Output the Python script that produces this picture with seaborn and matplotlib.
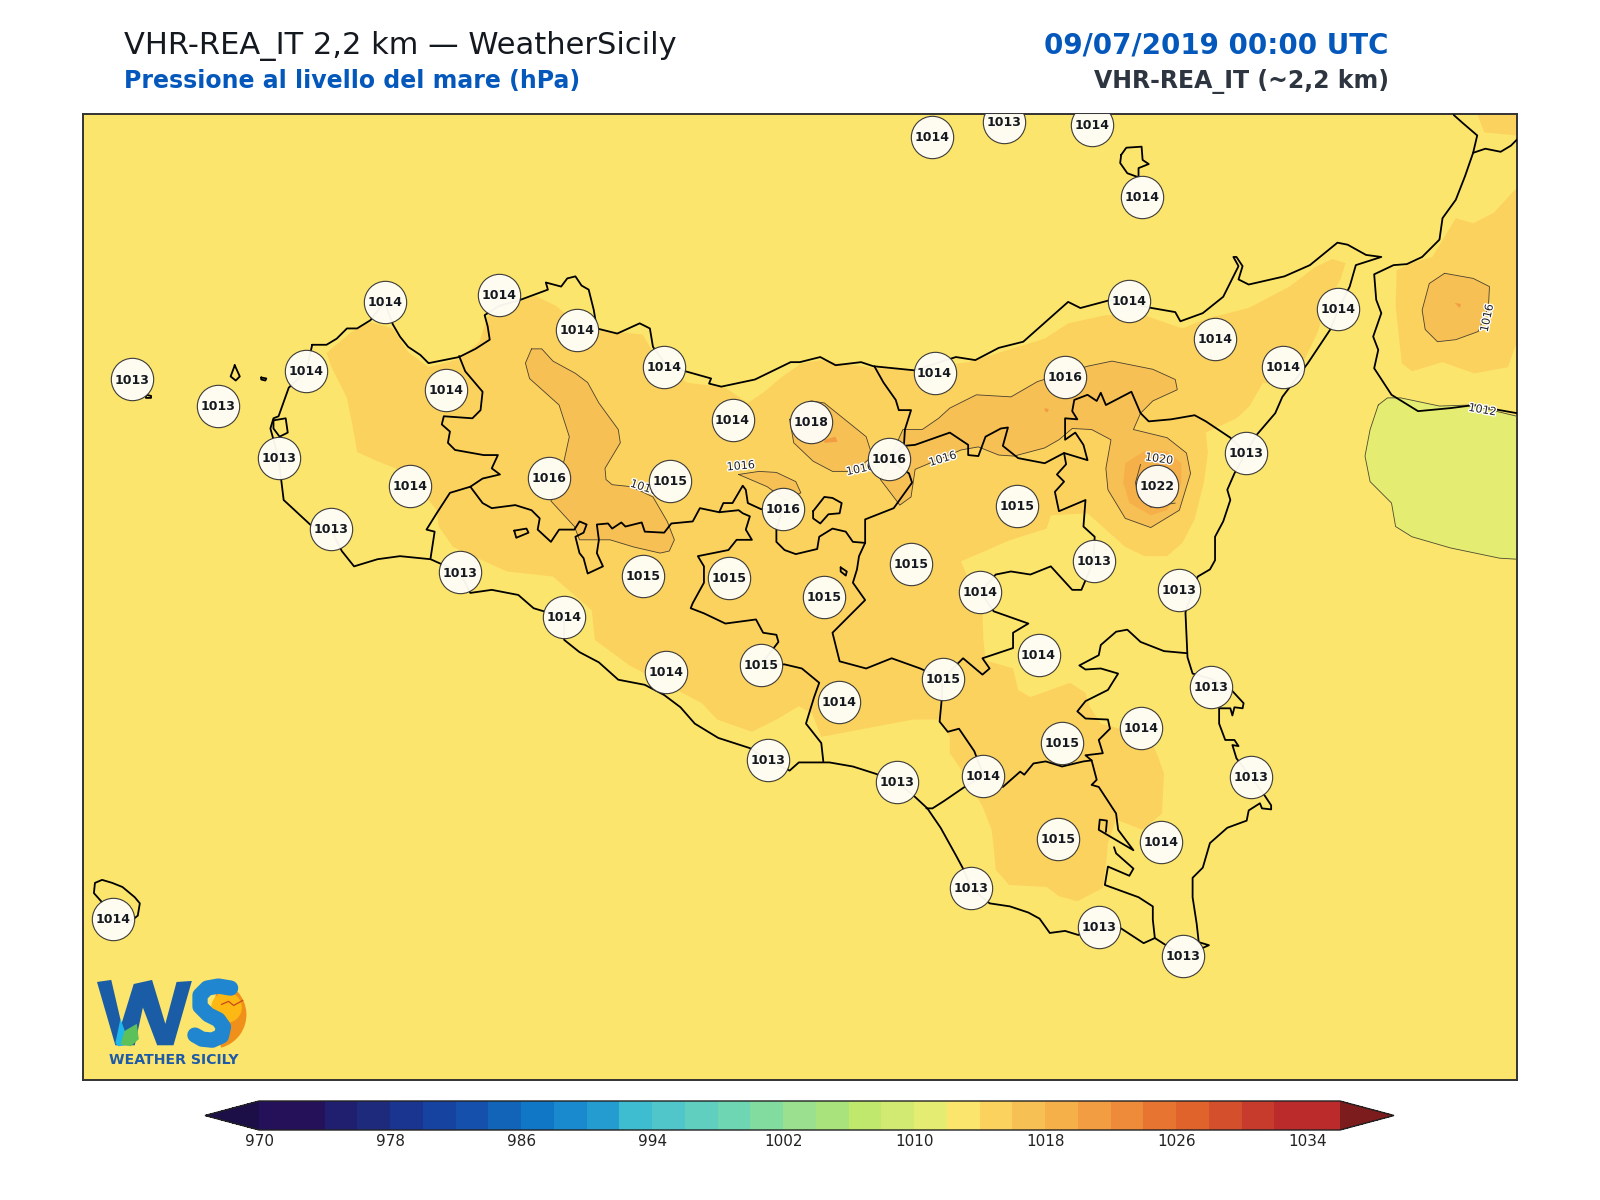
import matplotlib
matplotlib.use('Agg')
import matplotlib.pyplot as plt
import matplotlib.patheffects as pe
from matplotlib.cm import ScalarMappable
from matplotlib.colors import BoundaryNorm, ListedColormap
from matplotlib.patches import Circle, Wedge
import numpy as np
import pandas as pd
import seaborn as sns

sns.set_theme(style='white')
plt.rcParams['font.family'] = ['DejaVu Sans']

# All map positions (x to the right, y downwards)

# Station values
station_x = [129, 214, 300, 377, 489, 566, 651, 437, 273, 402, 324, 538, 657, 718, 795, 871, 767, 916, 1044,
             1107, 1191, 1258, 1312, 1221, 1134, 997, 1072, 1156, 893, 961, 808, 715, 630, 451, 553, 653, 746,
             822, 924, 1018, 1187, 1118, 1041, 964, 1226, 753, 879, 1037, 1138, 952, 1077, 1160, 111, 914, 984,
             1070, 1119]
station_y = [372, 398, 364, 296, 289, 324, 360, 382, 449, 476, 518, 468, 471, 412, 414, 450, 499, 366, 370,
             295, 332, 360, 303, 444, 476, 496, 550, 578, 553, 580, 585, 566, 564, 561, 605, 658, 652,
             688, 665, 642, 673, 713, 728, 760, 761, 745, 766, 822, 825, 870, 908, 937, 900, 135, 120,
             123, 193]
station_hpa = [1013, 1013, 1014, 1014, 1014, 1014, 1014, 1014, 1013, 1014, 1013, 1016, 1015, 1014, 1018, 1016, 1016, 1014, 1016,
               1014, 1014, 1014, 1014, 1013, 1022, 1015, 1013, 1013, 1015, 1014, 1015, 1015, 1015, 1013, 1014, 1014, 1015,
               1014, 1015, 1014, 1013, 1014, 1015, 1014, 1013, 1013, 1013, 1015, 1014, 1013, 1013, 1013, 1014, 1014, 1013,
               1014, 1014]

# Colour bar
levels = list(range(970, 1038, 2))
bar_ticks = list(range(970, 1035, 8))
band_colors = ['#24115a', '#24115a', '#201e6e', '#1e2a7c', '#1a3590', '#1743a0', '#1550ac', '#1264b8', '#0f77c6',
               '#1a8ace', '#259cd0', '#3ebcd0', '#50c6ca', '#60cfc0', '#6fd6b4', '#82dca0', '#9be08e', '#a8e37c',
               '#bfe86c', '#d2ea72', '#e4ec72', '#fce56c', '#fcd25f', '#f6c055', '#f6b04a', '#f29d42', '#ee8b3b',
               '#e77430', '#e0632c', '#d4502c', '#c63b2c', '#bb2b2b', '#bb2b2b']
under_color = '#1c0f47'
over_color = '#7c1c1c'

# Pressure areas, one list per closed outline
band_1014_main = [(320, 346), (345, 325), (363, 316), (385, 322), (400, 345), (420, 360), (450, 352), (470, 335),
                  (478, 310), (510, 295), (525, 290), (545, 300), (570, 320), (600, 325), (630, 328), (640, 345),
                  (673, 375), (711, 380), (733, 395), (748, 385), (767, 369), (786, 356), (805, 353), (857, 361),
                  (900, 362), (949, 355), (1024, 332), (1047, 317), (1084, 309), (1124, 310), (1159, 322), (1184, 312),
                  (1224, 302), (1264, 281), (1289, 262), (1306, 254), (1319, 258), (1314, 274), (1302, 294), (1291, 327),
                  (1277, 356), (1244, 376), (1238, 375), (1225, 398), (1212, 410), (1182, 424), (1184, 444), (1180, 473),
                  (1171, 509), (1159, 532), (1144, 545), (1122, 545), (1103, 536), (1084, 519), (1066, 503), (1030, 505),
                  (1026, 518), (991, 529), (942, 550), (963, 601), (964, 627), (966, 647), (993, 655), (998, 676),
                  (1010, 683), (1049, 669), (1064, 679), (1068, 692), (1079, 709), (1098, 714), (1131, 732), (1135, 741),
                  (1141, 758), (1139, 797), (1120, 813), (1094, 803), (1086, 826), (1085, 839), (1081, 870), (1056, 883),
                  (1038, 878), (1026, 869), (989, 867), (976, 852), (974, 830), (972, 813), (963, 790), (940, 751),
                  (931, 738), (931, 722), (921, 705), (895, 705), (858, 712), (805, 722), (796, 699), (783, 692),
                  (761, 705), (737, 717), (703, 705), (688, 689), (669, 679), (617, 652), (583, 627), (580, 598),
                  (542, 565), (497, 560), (444, 536), (430, 516), (428, 500), (412, 480), (395, 462), (370, 452),
                  (350, 443), (346, 420), (340, 390), (325, 360)]
band_1014_calabria = [(1369, 265), (1384, 258), (1404, 252), (1427, 214), (1444, 219), (1464, 209), (1487, 184),
                      (1487, 335), (1478, 360), (1445, 366), (1414, 355), (1384, 364), (1374, 356), (1368, 300)]
band_1014_corner = [(1448, 112), (1455, 130), (1487, 133), (1487, 112)]
band_1016_west = [(521, 342), (531, 342), (542, 354), (564, 366), (576, 375), (587, 395), (606, 421), (608, 434),
                  (593, 459), (594, 470), (600, 475), (619, 477), (640, 487), (654, 511), (661, 529), (656, 540),
                  (647, 542), (621, 536), (598, 529), (568, 529), (563, 516), (540, 491), (553, 451), (558, 428),
                  (548, 397), (519, 371), (515, 356), (521, 342)]
band_1016_small = [(724, 465), (744, 462), (761, 463), (780, 472), (785, 483), (770, 490), (752, 477), (724, 465)]
band_1016_centre = [(774, 411), (795, 393), (808, 395), (849, 428), (855, 447), (838, 462), (816, 462), (797, 452),
                    (778, 434), (774, 411)]
band_1016_east = [(863, 470), (885, 421), (904, 421), (920, 410), (931, 400), (957, 387), (991, 389), (1017, 374),
                  (1066, 359), (1090, 354), (1130, 362), (1152, 372), (1154, 382), (1130, 393), (1118, 405), (1111, 421),
                  (1144, 429), (1163, 444), (1167, 464), (1156, 500), (1128, 517), (1103, 508), (1086, 480), (1084, 459),
                  (1089, 431), (1070, 421), (1051, 420), (1038, 431), (1024, 439), (994, 447), (979, 446), (959, 438),
                  (942, 441), (897, 460), (893, 487), (882, 495), (863, 470)]
band_1016_calabria = [(1416, 268), (1444, 273), (1460, 281), (1459, 301), (1449, 325), (1427, 333), (1409, 335),
                      (1397, 323), (1394, 304), (1401, 278), (1416, 268)]
band_1018_etna = [(1122, 442), (1144, 442), (1158, 454), (1158, 473), (1144, 500), (1128, 505), (1107, 493),
                  (1101, 473), (1103, 454)]
band_1018_centre = [(808, 431), (819, 428), (821, 433), (808, 434)]
band_1018_speck = [(1024, 400), (1028, 401), (1027, 404), (1024, 403)]
band_1018_calabria = [(1426, 297), (1432, 298), (1431, 302)]
band_1010_sea = [(1351, 397), (1360, 390), (1373, 390), (1411, 398), (1441, 397), (1487, 408), (1487, 548), (1470, 547),
                 (1422, 537), (1384, 526), (1368, 516), (1364, 493), (1343, 472), (1338, 447), (1343, 421), (1351, 397)]
isoline_1020 = [(1118, 455), (1113, 473), (1116, 487), (1128, 497), (1152, 493)]

# Sicily and the other coasts
coast_sicily = [(306, 338), (320, 338), (330, 332), (340, 322), (350, 322), (363, 314), (377, 296), (385, 318), (392, 330),
                (400, 340), (412, 348), (420, 356), (450, 350), (466, 342), (480, 333), (478, 320), (475, 309), (489, 300), (510, 294),
                (537, 284), (535, 277), (550, 281), (556, 273), (564, 271), (570, 280), (577, 284), (582, 304), (585, 322), (605, 327),
                (627, 317), (637, 322), (640, 340), (651, 355), (672, 364), (697, 371), (695, 376), (707, 379), (740, 372), (775, 355),
                (784, 355), (804, 350), (819, 358), (844, 355), (856, 359), (896, 363), (937, 350), (956, 353), (979, 341),
                (1003, 335), (1047, 296), (1059, 302), (1089, 294), (1129, 302), (1152, 306), (1157, 315), (1179, 307), (1199, 291),
                (1214, 261), (1209, 252), (1212, 252), (1218, 261), (1214, 274), (1224, 279), (1259, 271), (1284, 260), (1311, 238),
                (1321, 240), (1339, 250), (1354, 252), (1329, 260), (1323, 281), (1312, 303), (1304, 323), (1282, 356), (1257, 389),
                (1250, 405), (1232, 426), (1221, 444), (1210, 464), (1203, 480), (1206, 490), (1199, 511), (1191, 526), (1191, 549),
                (1186, 558), (1174, 565), (1162, 600), (1164, 644), (1169, 660), (1187, 665), (1207, 676), (1219, 689), (1218, 694),
                (1210, 693), (1208, 701), (1206, 694), (1195, 694), (1195, 709), (1201, 725), (1210, 725), (1214, 731), (1208, 730),
                (1212, 743), (1226, 761), (1238, 777), (1246, 789), (1246, 793), (1237, 792), (1235, 787), (1224, 794), (1222, 804),
                (1203, 811), (1186, 826), (1179, 850), (1169, 860), (1169, 879), (1173, 905), (1175, 923), (1185, 926), (1176, 930),
                (1160, 937), (1132, 919), (1121, 924), (1098, 909), (1077, 908), (1057, 916), (1044, 912), (1029, 914), (1019, 900),
                (1008, 894), (990, 888), (970, 885), (952, 870), (944, 851), (937, 838), (922, 811), (909, 792), (895, 779), (879, 766),
                (858, 758), (836, 751), (813, 747), (783, 747), (774, 755), (753, 745), (735, 733), (704, 723), (681, 709), (667, 693),
                (651, 681), (632, 671), (606, 666), (587, 649), (568, 639), (553, 627), (553, 605), (523, 596), (508, 583), (482, 578),
                (461, 581), (451, 561), (422, 548), (392, 545), (370, 548), (347, 555), (335, 540), (324, 518), (305, 515), (278, 490),
                (275, 465), (273, 449), (265, 420), (268, 410), (273, 408), (283, 380), (300, 364), (306, 338)]
coast_calabria = [(1425, 113), (1434, 121), (1448, 133), (1444, 150), (1436, 173), (1427, 196), (1414, 214), (1411, 235),
                  (1394, 252), (1379, 259), (1366, 260), (1347, 269), (1349, 294), (1354, 307), (1346, 330), (1351, 343),
                  (1347, 361), (1364, 387), (1390, 403), (1422, 400), (1445, 397), (1470, 402), (1487, 405)]
border_calabria = [(1444, 150), (1456, 146), (1471, 149), (1481, 143), (1487, 137)]
island_aeolian = [(1099, 152), (1104, 145), (1119, 144), (1120, 157), (1126, 161), (1116, 165), (1116, 174), (1105, 170),
                  (1098, 160), (1099, 152)]
island_pantelleria = [(100, 884), (92, 875), (93, 865), (100, 862), (110, 865), (120, 869), (132, 879), (137, 885),
                      (135, 897), (125, 905)]
island_levanzo = [(230, 358), (235, 369), (231, 373), (226, 369), (229, 361), (230, 358)]
island_marettimo = [(143, 387), (148, 388), (148, 390), (143, 390), (143, 387)]
island_formica = [(256, 370), (261, 371), (260, 373), (256, 372), (256, 370)]
island_trapani = [(268, 412), (280, 410), (282, 424), (274, 428), (268, 420), (268, 412)]

# Province borders
border_1 = [(450, 349), (456, 364), (473, 384), (471, 402), (463, 410), (435, 408), (433, 416), (441, 423), (439, 434),
            (446, 441), (474, 446), (488, 446), (482, 459), (490, 465), (473, 469), (461, 477), (441, 483), (428, 503),
            (418, 519), (426, 521), (422, 547)]
border_2 = [(461, 477), (473, 493), (482, 498), (505, 495), (521, 500), (529, 508), (527, 519), (540, 531), (548, 519),
            (563, 519), (568, 511), (575, 514), (572, 522), (564, 526), (568, 542), (572, 547), (576, 562), (591, 555),
            (585, 542), (587, 529), (585, 514), (596, 513), (600, 518), (609, 512), (613, 516), (629, 512), (632, 521),
            (651, 522), (658, 513), (679, 511), (686, 498), (705, 502), (709, 493), (718, 493), (728, 476), (731, 480),
            (733, 493), (746, 499), (767, 499), (761, 519), (761, 531), (769, 539), (780, 543), (801, 538), (803, 526),
            (816, 518), (829, 521), (836, 531), (848, 532)]
border_3 = [(705, 502), (724, 500), (728, 503), (735, 506), (731, 519), (737, 529), (722, 529), (714, 539), (684, 545),
            (690, 555), (690, 571), (679, 591), (677, 596), (690, 601), (711, 611), (741, 607), (748, 620), (761, 622),
            (763, 629), (746, 651), (769, 651), (786, 655), (803, 669), (798, 683), (790, 709), (805, 728), (807, 746)]
border_4 = [(848, 532), (842, 545), (840, 558), (836, 571), (848, 588), (816, 620), (823, 648), (849, 655), (874, 645),
            (902, 655), (924, 665)]
border_5 = [(848, 532), (848, 509), (876, 498), (894, 473), (891, 464), (871, 450), (886, 437), (887, 421), (893, 402),
            (881, 402), (878, 392), (866, 375), (857, 359)]
border_6 = [(886, 437), (897, 436), (931, 424), (949, 436), (949, 446), (959, 447), (966, 428), (981, 420), (988, 419),
            (983, 437), (998, 449), (1024, 454), (1043, 444), (1066, 451), (1062, 436), (1054, 424), (1044, 431),
            (1044, 410), (1056, 411), (1051, 403), (1053, 392), (1066, 387), (1075, 393), (1079, 385), (1084, 397),
            (1109, 384), (1118, 405), (1126, 413), (1148, 411), (1171, 407), (1182, 413), (1206, 429), (1221, 444)]
border_7 = [(1043, 444), (1045, 455), (1036, 465), (1043, 472), (1034, 482), (1038, 501), (1064, 490), (1062, 516),
            (1073, 526), (1072, 550), (1063, 571), (1060, 578), (1051, 578), (1030, 555), (1010, 563), (991, 560),
            (976, 563), (961, 580), (974, 599), (1008, 611), (993, 620), (993, 635), (963, 645), (970, 655), (963, 661),
            (944, 645), (924, 665)]
border_8 = [(1163, 640), (1141, 638), (1118, 629), (1105, 617), (1094, 619), (1079, 632), (1077, 642), (1058, 652),
            (1064, 656), (1079, 655), (1096, 660), (1086, 676), (1064, 687), (1056, 697), (1064, 704), (1086, 705),
            (1088, 714), (1077, 725), (1081, 738), (1064, 740), (1070, 745), (1075, 764), (1070, 769), (1077, 771),
            (1094, 797), (1096, 813), (1111, 833), (1077, 813), (1078, 803), (1085, 804), (1084, 815)]
border_9 = [(1092, 830), (1094, 836), (1111, 851), (1107, 858), (1086, 849), (1083, 867), (1116, 879), (1130, 888),
            (1130, 901), (1132, 919)]
border_10 = [(983, 771), (1000, 756), (1004, 759), (1013, 748), (1025, 746), (1041, 751), (1062, 746), (1070, 745)]
border_11 = [(924, 665), (923, 686), (921, 707), (929, 717), (940, 714), (955, 736), (964, 760), (944, 772), (925, 785),
             (914, 792), (908, 792)]
enclave_1 = [(504, 520), (516, 518), (518, 522), (506, 527), (504, 520)]
enclave_2 = [(797, 501), (808, 487), (816, 488), (825, 493), (823, 503), (812, 504), (804, 513), (797, 508), (797, 501)]
lake_1 = [(824, 556), (830, 560), (829, 564), (824, 560), (824, 556)]

# Contour labels: text, x, y, angle
label_text = ['1016', '1016', '1016', '1016', '1016', '1020', '1012']
label_x = [631, 726, 843, 924, 1458, 1136, 1453]
label_y = [478, 457, 460, 450, 312, 450, 402]
label_rot = [-18, 5, 12, 17, 78, -8, -10]

# Logo shapes
logo_w = [(95, 962), (109, 960), (119, 1003), (131, 964), (149, 960), (162, 1003), (173, 962), (188, 961), (170, 1024),
          (154, 1024), (140, 987), (132, 1024), (113, 1024)]
logo_drop = [(113, 1022), (118, 998), (123, 1012), (122, 1024), (116, 1025)]
logo_leaf = [(118, 1023), (122, 1010), (134, 1003), (136, 1018), (128, 1025)]
logo_s = [(191, 1014), (198, 1018), (208, 1019), (217, 1015), (219, 1006), (214, 999), (204, 994), (196, 986), (196, 975),
          (203, 968), (214, 966), (226, 968)]
logo_bird = [(217, 984), (224, 981), (229, 985), (238, 980)]

fig = plt.figure(figsize=(16, 12), dpi=100)
ax = fig.add_axes([82.7 / 1600, 1 - 1080 / 1200, 1434.3 / 1600, 966 / 1200])
ax.set_xlim(81, 1487)
ax.set_ylim(1058, 112)
ax.set_facecolor(band_colors[21])
ax.set_xticks([])
ax.set_yticks([])
for spine in ax.spines.values():
    spine.set_linewidth(1.4)
    spine.set_color('#333333')


def fill_band(points, color, zorder=1):
    xs, ys = zip(*points)
    ax.fill(xs, ys, color=color, lw=0, zorder=zorder)


def draw_line(points, color='black', lw=1.3, zorder=4):
    xs, ys = zip(*points)
    ax.plot(xs, ys, color=color, lw=lw, zorder=zorder, solid_joinstyle='round')


# 1010 area and 1014-1016 band
fill_band(band_1010_sea, band_colors[20])
for outline in [band_1014_main, band_1014_calabria, band_1014_corner]:
    fill_band(outline, band_colors[22])

# 1016-1018 band with its isoline
for outline in [band_1016_west, band_1016_small, band_1016_centre, band_1016_east, band_1016_calabria]:
    fill_band(outline, band_colors[23], zorder=2)
    draw_line(list(outline) + [outline[0]], color='#4a4030', lw=0.6, zorder=3)
draw_line(band_1010_sea, color='#4a4a30', lw=0.6, zorder=3)

# 1018-1020 band
fill_band(band_1018_etna, band_colors[24], zorder=2.5)
fill_band(band_1018_centre, band_colors[25], zorder=2.5)
fill_band(band_1018_speck, band_colors[25], zorder=2.5)
fill_band(band_1018_calabria, band_colors[25], zorder=2.5)
draw_line(isoline_1020, color='#4a4030', lw=0.6, zorder=3)

# Coasts and borders
for line in [coast_sicily, coast_calabria, border_calabria, island_aeolian, island_pantelleria, island_levanzo,
             island_marettimo, island_formica, island_trapani, border_1, border_2, border_3, border_4, border_5,
             border_6, border_7, border_8, border_9, border_10, border_11, enclave_1, enclave_2, lake_1]:
    draw_line(line)

# Contour labels
for text, x, y, rot in zip(label_text, label_x, label_y, label_rot):
    ax.text(x, y, text, fontsize=8, color='#222222', rotation=rot, ha='center', va='center', zorder=5,
            path_effects=[pe.withStroke(linewidth=2, foreground='white')])

# Stations
stations = pd.DataFrame({'x': station_x, 'y': station_y, 'hpa': station_hpa})
sns.scatterplot(data=stations, x='x', y='y', ax=ax, s=930, color='#fffdf6', edgecolor='#333333', linewidth=0.8,
                alpha=0.96, zorder=6, legend=False)
for row in stations.itertuples():
    ax.text(row.x, row.y + 0.5, str(row.hpa), fontsize=9, fontweight='bold', color='#14181f', ha='center',
            va='center', zorder=7, clip_on=True)
ax.set_xlabel('')
ax.set_ylabel('')

# Logo
ax.add_patch(Wedge((208, 994), 33.5, -80, 75, facecolor='#f0901a', edgecolor='none', zorder=8))
ax.add_patch(Circle((222, 987), 15, facecolor='#fdb813', edgecolor='none', zorder=8))
fill_band(logo_w, '#1a5da6', zorder=9)
fill_band(logo_drop, '#1fb6ea', zorder=10)
fill_band(logo_leaf, '#5cc15a', zorder=11)
draw_line(logo_s, color='#1f86cf', lw=11, zorder=9)
draw_line(logo_bird, color='#c8481a', lw=0.9, zorder=10)
ax.text(170, 1038, 'WEATHER SICILY', fontsize=10.2, fontweight='bold', color='#1d5aa8', ha='center', va='center',
        zorder=9)

# Colour bar
cmap = ListedColormap(band_colors)
cmap.set_under(under_color)
cmap.set_over(over_color)
norm = BoundaryNorm(levels, cmap.N)
cax = fig.add_axes([205 / 1600, 1 - 1130 / 1200, 1189 / 1600, 29 / 1200])
bar = fig.colorbar(ScalarMappable(norm=norm, cmap=cmap), cax=cax, orientation='horizontal', extend='both',
                   extendfrac=0.05, ticks=bar_ticks, spacing='proportional', drawedges=False)
bar.minorticks_off()
bar.ax.tick_params(length=0, labelsize=11, pad=3, colors='#222222')
bar.outline.set_linewidth(1.0)
bar.outline.set_edgecolor('#222222')

# Headers
fig.text(124 / 1600, 1 - 54 / 1200, 'VHR-REA_IT 2,2 km \u2014 WeatherSicily', fontsize=22, color='#14181f',
         ha='left', va='baseline')
fig.text(124 / 1600, 1 - 88 / 1200, 'Pressione al livello del mare (hPa)', fontsize=17, fontweight='bold',
         color='#0558bb', ha='left', va='baseline')
fig.text(1389 / 1600, 1 - 54 / 1200, '09/07/2019 00:00 UTC', fontsize=20, fontweight='bold', color='#0558bb',
         ha='right', va='baseline')
fig.text(1389 / 1600, 1 - 88 / 1200, 'VHR-REA_IT (~2,2 km)', fontsize=17, fontweight='bold', color='#2d3540',
         ha='right', va='baseline')

fig.savefig('out.png', dpi=100, facecolor='white')
